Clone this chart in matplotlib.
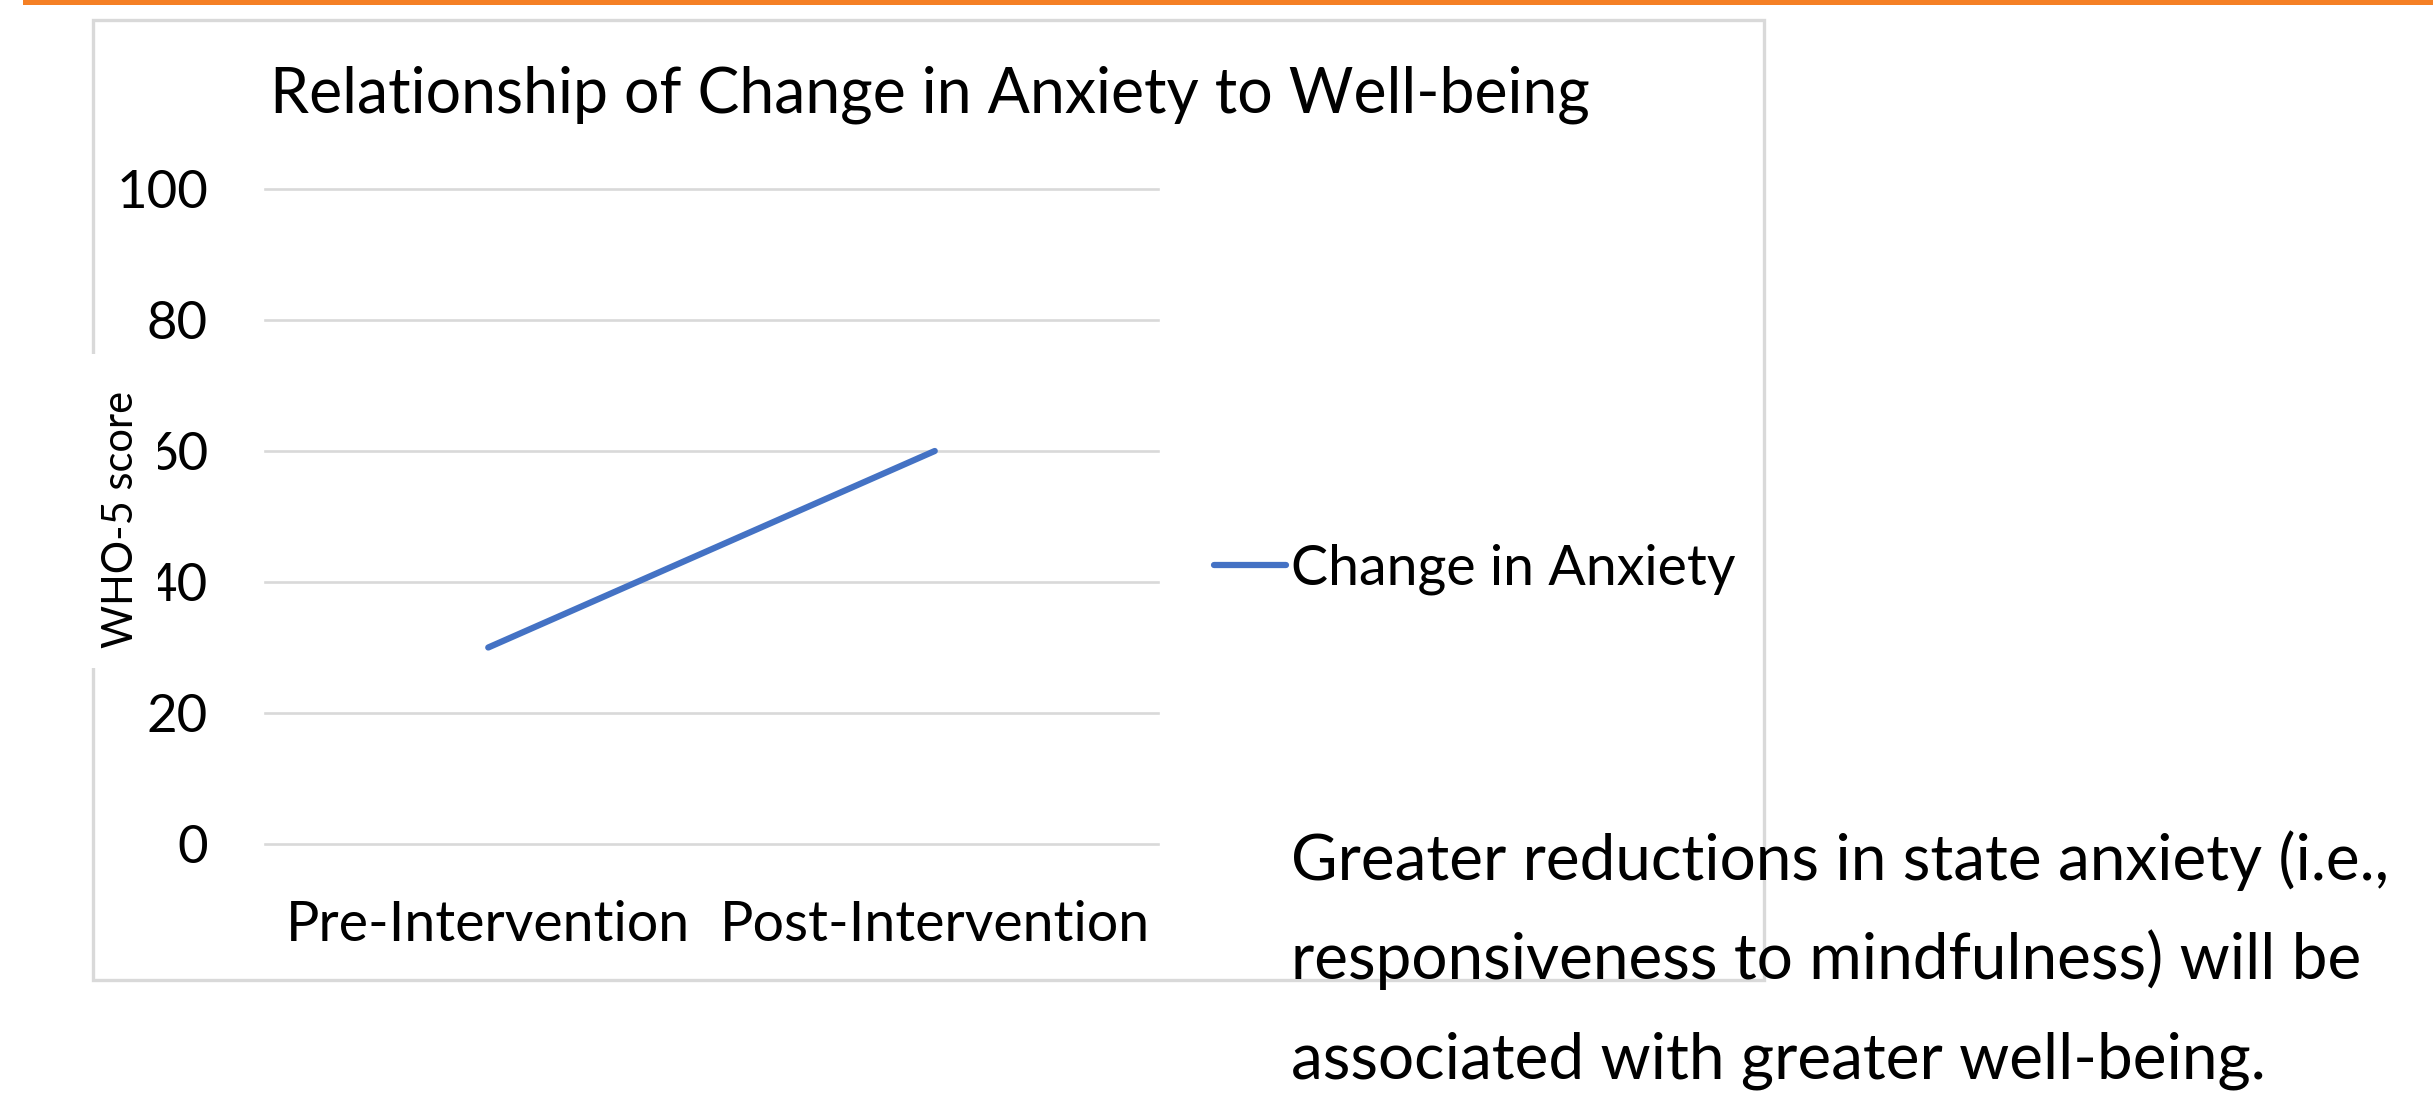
import matplotlib
matplotlib.use('Agg')
import matplotlib.pyplot as plt
from matplotlib.patches import Rectangle

# chart data
categories = ['Pre-Intervention', 'Post-Intervention']
who5_scores = [30, 60]
series_name = 'Change in Anxiety'
y_ticks = [0, 20, 40, 60, 80, 100]
title = 'Relationship of Change in Anxiety to Well-being'
y_label = 'WHO-5 score'
note_lines = ['Greater reductions in state anxiety (i.e.,',
              'responsiveness to mindfulness) will be',
              'associated with greater well-being.']

W, H = 2433, 1097
grid_col = '#D9D9D9'
blue = '#4472C4'
orange = '#F58025'

plt.rcParams['font.family'] = ['Lato', 'DejaVu Sans']

fig = plt.figure(figsize=(W / 100, H / 100), dpi=100)


def fx(x):
    return x / W


def fy(y):
    # pixel row from the top -> figure fraction
    return 1 - y / H


# orange strip at the top and the chart frame
fig.patches.append(Rectangle((fx(23), fy(5)), 1, fy(0) - fy(5), transform=fig.transFigure,
                             color=orange, lw=0, zorder=0))
fig.patches.append(Rectangle((fx(93), fy(980)), fx(1764) - fx(93), fy(20) - fy(980),
                             transform=fig.transFigure, fill=False, edgecolor=grid_col,
                             lw=2.4, zorder=0))

# plot area
ax = fig.add_axes([fx(265), fy(844), fx(1158) - fx(265), fy(189) - fy(844)])
ax.set_facecolor('none')
x = list(range(len(categories)))
ax.plot(x, who5_scores, color=blue, lw=4.5, solid_capstyle='round', label=series_name)
ax.set_xlim(-0.5, len(categories) - 0.5)
ax.set_ylim(0, 100)
ax.set_yticks(y_ticks)
ax.set_xticks(x)
ax.set_xticklabels(categories)
ax.grid(axis='y', color=grid_col, lw=1.9)
ax.set_axisbelow(True)
for line in ax.get_ygridlines():
    line.set_clip_on(False)
for s in ax.spines.values():
    s.set_visible(False)
ax.tick_params(length=0)
ax.tick_params(axis='y', labelsize=38, pad=41)
ax.tick_params(axis='x', labelsize=40, pad=40)

fig.text(fx(930), fy(112), title, ha='center', va='baseline', fontsize=45)

# y label sits on a white box that hides part of the tick labels and the frame
fig.patches.append(Rectangle((fx(88), fy(668)), fx(158) - fx(88), fy(354) - fy(668),
                             transform=fig.transFigure, color='white', lw=0, zorder=2))
fig.text(fx(121), fy(519), y_label, rotation=90, ha='center', va='center',
         fontsize=30, zorder=3)

fig.legend(loc='center left', bbox_to_anchor=(fx(1214), fy(569)), frameon=False,
           fontsize=40, borderpad=0, borderaxespad=0, handlelength=1.3,
           handletextpad=0.08)

for i, line in enumerate(note_lines):
    fig.text(fx(1291), fy(880 + 99 * i), line, ha='left', va='baseline',
             fontsize=46, zorder=3)

fig.savefig('out.png', dpi=100)
